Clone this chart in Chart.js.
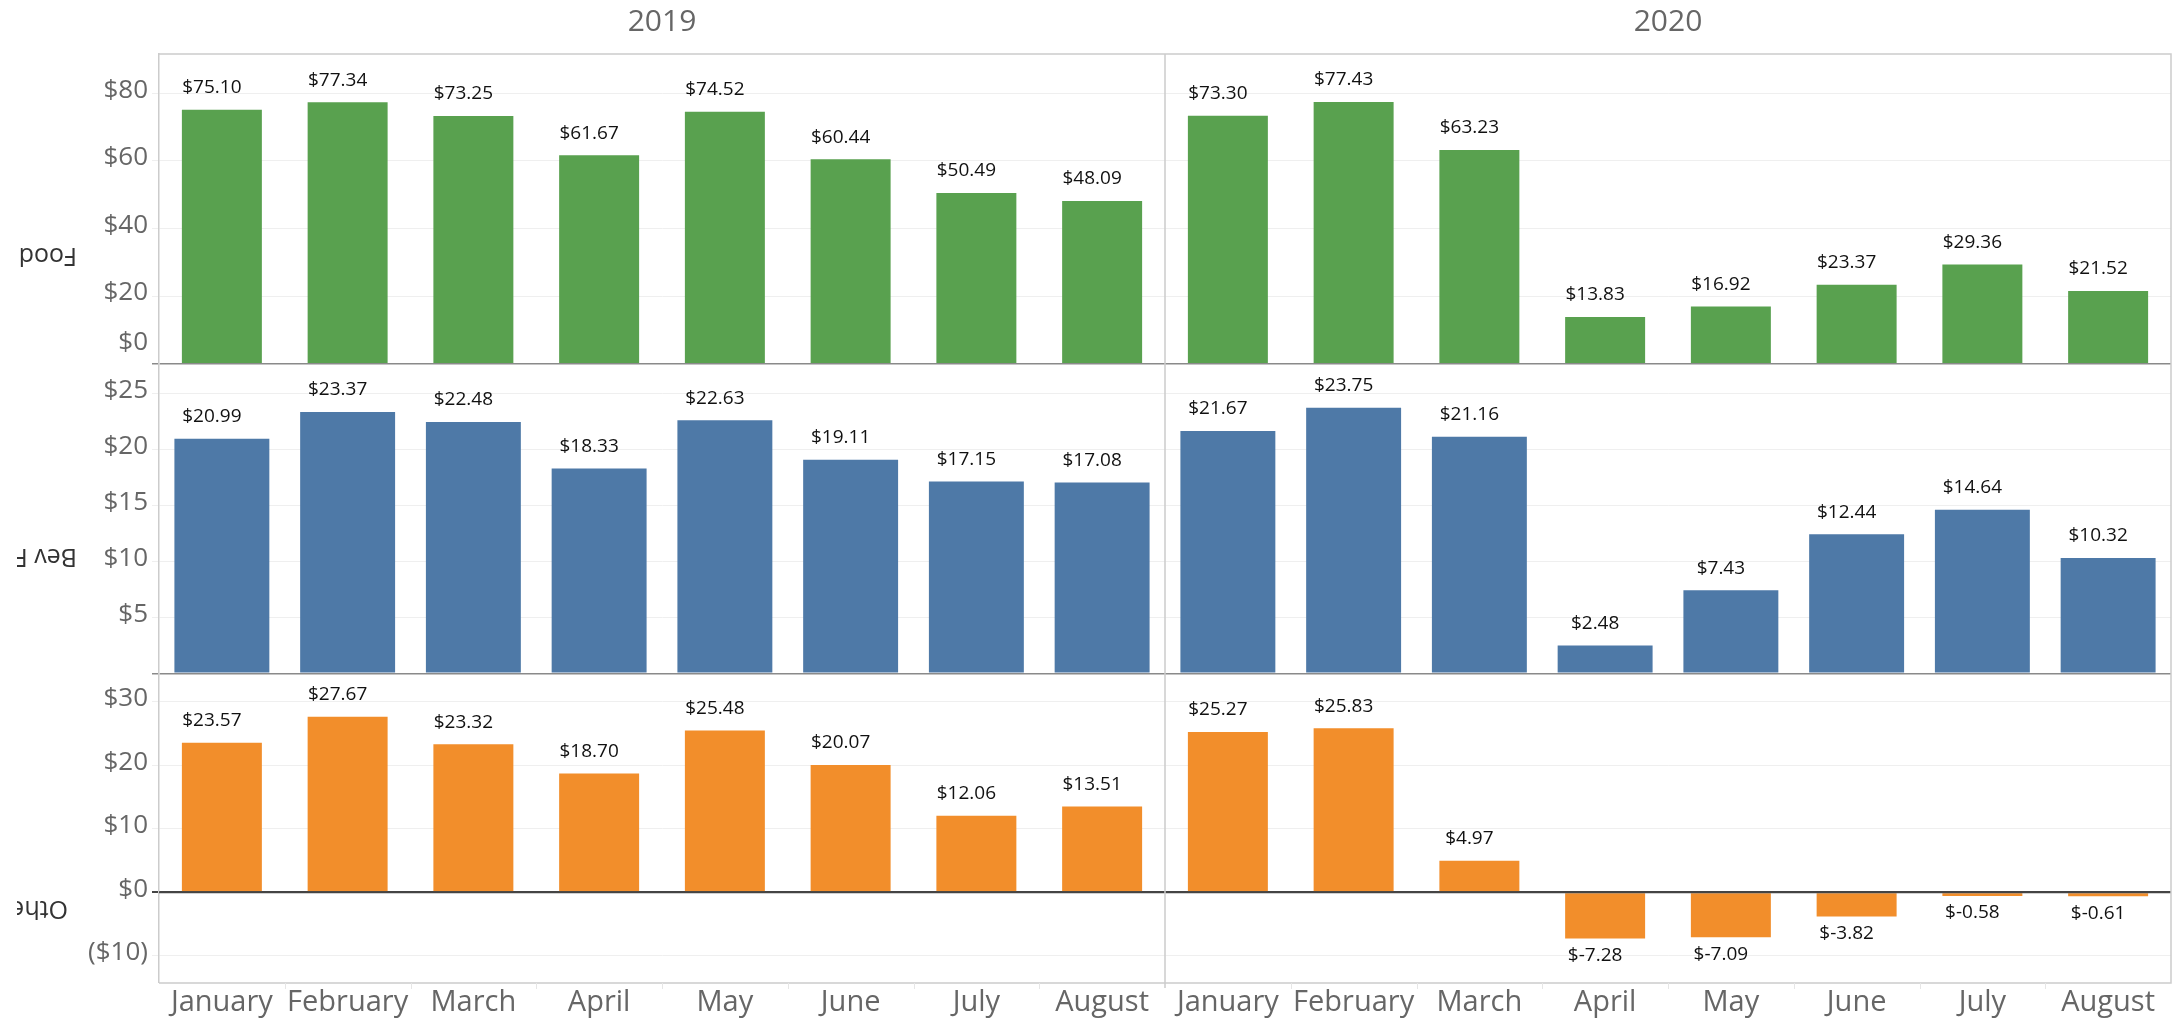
<!DOCTYPE html>
<html lang="en">
<head>
  <meta charset="UTF-8">
  <title>Food / Bev / Other by month, 2019 vs 2020</title>
  <style>
    html, body {
      margin: 0;
      padding: 0;
      background: #fff;
    }
    .wrap {
      position: relative;
      width: 2172px;
      height: 1018px;
    }
    canvas {
      display: block;
    }
  </style>
</head>
<body>
  <div class="wrap">
    <canvas id="chart" width="2172" height="1018"></canvas>
  </div>

  <script src="https://cdn.jsdelivr.net/npm/chart.js@4.4.1/dist/chart.umd.min.js"></script>

  <script>
    // ---- data ----
    const years = ['2019', '2020'];
    const months = ['January', 'February', 'March', 'April', 'May', 'June', 'July', 'August'];
    const rowNames = ['Food', 'Bev F', 'Othe'];

    const food2019 = [75.10, 77.34, 73.25, 61.67, 74.52, 60.44, 50.49, 48.09];
    const food2020 = [73.30, 77.43, 63.23, 13.83, 16.92, 23.37, 29.36, 21.52];
    const bev2019 = [20.99, 23.37, 22.48, 18.33, 22.63, 19.11, 17.15, 17.08];
    const bev2020 = [21.67, 23.75, 21.16, 2.48, 7.43, 12.44, 14.64, 10.32];
    const other2019 = [23.57, 27.67, 23.32, 18.70, 25.48, 20.07, 12.06, 13.51];
    const other2020 = [25.27, 25.83, 4.97, -7.28, -7.09, -3.82, -0.58, -0.61];

    // axis ranges / tick steps
    const foodRange = [0, 91.6];
    const bevRange = [0, 27.7];
    const otherRange = [-14.3, 34.5];
    const foodStep = 20;
    const bevStep = 5;
    const otherStep = 10;

    // ---- styles ----
    const FONT = "'Open Sans', 'DejaVu Sans', sans-serif";
    const GREEN = '#59a14f';
    const BLUE = '#4e79a7';
    const ORANGE = '#f28e2b';
    const GRID = '#efefef';
    const FRAME = '#cccccc';
    const AXIS_TEXT = '#666666';
    // row header: visual right edge of the upside-down text, and shift from row centre
    const rowLabelRight = [77, 77, 68];
    const rowLabelShift = [46, 38, 80];

    const labels = months.concat(months);

    function money(v) {
      if (v < 0) return '($' + Math.abs(v) + ')';
      return '$' + v;
    }

    function yAxis(range, step, weight, zeroColor, zeroWidth, hideZero) {
      return {
        type: 'linear',
        position: 'left',
        stack: 'rows',
        stackWeight: 1,
        weight: weight,
        min: range[0],
        max: range[1],
        afterFit: function(axis) { axis.width = 159; },
        border: { color: FRAME, width: 1.5 },
        grid: {
          color: c => (c.tick && c.tick.value === 0) ? zeroColor : GRID,
          lineWidth: c => (c.tick && c.tick.value === 0) ? zeroWidth : 1,
          tickLength: 7
        },
        ticks: {
          stepSize: step,
          includeBounds: false,
          autoSkip: false,
          padding: 4,
          labelOffset: -3,
          color: AXIS_TEXT,
          font: { family: FONT, size: 26 },
          callback: v => (hideZero && v === 0) ? '' : money(v)
        }
      };
    }

    const decor = {
      id: 'decor',
      afterDatasetsDraw(chart) {
        const { ctx, chartArea: a, scales } = chart;
        const x = scales.x;
        ctx.save();

        // zero line of the last row sits on top of the bars
        const z = scales.yOther.getPixelForValue(0);
        ctx.strokeStyle = '#444';
        ctx.lineWidth = 2;
        ctx.beginPath();
        ctx.moveTo(a.left, z);
        ctx.lineTo(a.right, z);
        ctx.stroke();

        // frame + year divider
        ctx.strokeStyle = FRAME;
        ctx.lineWidth = 1.5;
        const xd = (x.getPixelForTick(7) + x.getPixelForTick(8)) / 2;
        ctx.beginPath();
        ctx.moveTo(a.left, a.top);
        ctx.lineTo(a.right, a.top);
        ctx.lineTo(a.right, a.bottom);
        ctx.lineTo(a.left, a.bottom);
        ctx.moveTo(xd, a.top);
        ctx.lineTo(xd, a.bottom + 5);
        ctx.stroke();

        // faint tick marks between months
        ctx.strokeStyle = '#e6e6e6';
        ctx.lineWidth = 1;
        ctx.beginPath();
        for (let i = 1; i < labels.length; i++) {
          if (i === 8) continue;
          const xx = Math.round((x.getPixelForTick(i - 1) + x.getPixelForTick(i)) / 2) + 0.5;
          ctx.moveTo(xx, a.bottom);
          ctx.lineTo(xx, a.bottom + 6);
        }
        ctx.stroke();

        // value labels
        ctx.fillStyle = '#111';
        ctx.font = '19px ' + FONT;
        ctx.textAlign = 'center';
        ctx.textBaseline = 'middle';
        chart.data.datasets.forEach((ds, di) => {
          chart.getDatasetMeta(di).data.forEach((bar, i) => {
            const v = ds.data[i];
            const txt = '$' + v.toFixed(2);
            const yy = v >= 0 ? bar.y - 22 : bar.y + 17;
            ctx.fillText(txt, bar.x - 10, yy);
          });
        });

        // year headers
        ctx.fillStyle = AXIS_TEXT;
        ctx.font = '30px ' + FONT;
        years.forEach((yr, k) => {
          const cx = (x.getPixelForTick(k * 8) + x.getPixelForTick(k * 8 + 7)) / 2;
          ctx.fillText(yr, cx, 22);
        });

        // Food "$0" is nudged up inside its row
        ctx.font = '26px ' + FONT;
        ctx.textAlign = 'right';
        ctx.fillText('$0', 148, scales.yFood.getPixelForValue(0) - 21);

        // row headers, upside down and clipped at the left
        const rows = [scales.yFood, scales.yBev, scales.yOther];
        ctx.beginPath();
        ctx.rect(17, 0, 150, chart.height);
        ctx.clip();
        ctx.fillStyle = '#333';
        ctx.font = '25px ' + FONT;
        ctx.textAlign = 'left';
        rows.forEach((s, r) => {
          ctx.save();
          ctx.translate(rowLabelRight[r], (s.top + s.bottom) / 2 + rowLabelShift[r]);
          ctx.rotate(Math.PI);
          ctx.fillText(rowNames[r], 0, 0);
          ctx.restore();
        });

        ctx.restore();
      }
    };

    new Chart(document.getElementById('chart'), {
      type: 'bar',
      data: {
        labels: labels,
        datasets: [
          {
            label: rowNames[0],
            data: food2019.concat(food2020),
            yAxisID: 'yFood',
            backgroundColor: GREEN,
            grouped: false,
            categoryPercentage: 1,
            barPercentage: 0.636
          },
          {
            label: rowNames[1],
            data: bev2019.concat(bev2020),
            yAxisID: 'yBev',
            backgroundColor: BLUE,
            grouped: false,
            categoryPercentage: 1,
            barPercentage: 0.755
          },
          {
            label: rowNames[2],
            data: other2019.concat(other2020),
            yAxisID: 'yOther',
            backgroundColor: ORANGE,
            grouped: false,
            categoryPercentage: 1,
            barPercentage: 0.636
          }
        ]
      },
      options: {
        responsive: false,
        animation: false,
        devicePixelRatio: 1,
        layout: { padding: { top: 54, right: 1, bottom: 0, left: 0 } },
        plugins: {
          legend: { display: false },
          tooltip: { enabled: false }
        },
        scales: {
          x: {
            type: 'category',
            offset: true,
            afterFit: function(axis) { axis.height = 35; },
            grid: { display: false, drawTicks: false },
            border: { display: false },
            ticks: {
              autoSkip: false,
              maxRotation: 0,
              minRotation: 0,
              padding: 2,
              color: AXIS_TEXT,
              font: { family: FONT, size: 29 }
            }
          },
          yFood: yAxis(foodRange, foodStep, 3, '#8a8a8a', 1.5, true),
          yBev: yAxis(bevRange, bevStep, 2, '#8a8a8a', 1.5, true),
          yOther: yAxis(otherRange, otherStep, 1, '#444444', 2, false)
        }
      },
      plugins: [decor]
    });
  </script>
</body>
</html>
